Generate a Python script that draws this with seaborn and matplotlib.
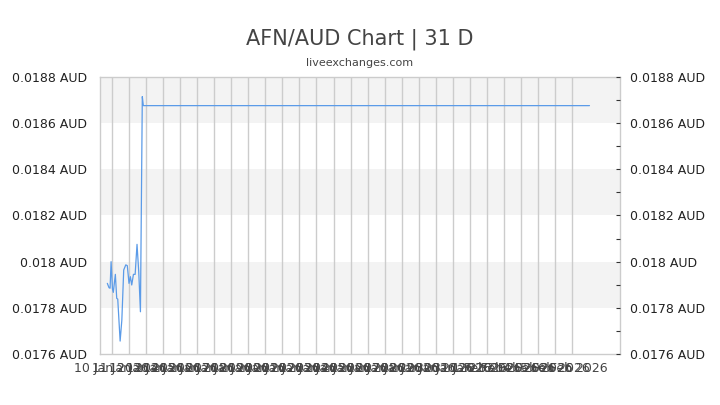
import matplotlib
matplotlib.use("Agg")
import matplotlib.pyplot as plt
import pandas as pd
import seaborn as sns
from matplotlib.ticker import MultipleLocator, FuncFormatter

# day offsets (fractional) and AFN/AUD rates
days = [-0.26, -0.16, -0.10, -0.04, 0.04, 0.09, 0.21, 0.29, 0.35, 0.49,
        0.59, 0.70, 0.82, 0.91, 1.01, 1.09, 1.17, 1.27, 1.37, 1.48,
        1.58, 1.68, 1.79, 1.85, 28.0]
rates = [0.017906, 0.017887, 0.017885, 0.018000, 0.017882, 0.017867, 0.017945,
         0.017841, 0.017838, 0.017656, 0.017747, 0.017964, 0.017986, 0.017983,
         0.017906, 0.017935, 0.017899, 0.017945, 0.017945, 0.018075, 0.017957,
         0.017783, 0.018715, 0.018676, 0.018676]

tick_labels = ["10 Jan 2026", "11 Jan 2026", "12 Jan 2026", "13 Jan 2026",
               "14 Jan 2026", "15 Jan 2026", "16 Jan 2026", "17 Jan 2026",
               "18 Jan 2026", "19 Jan 2026", "20 Jan 2026", "21 Jan 2026",
               "22 Jan 2026", "23 Jan 2026", "24 Jan 2026", "25 Jan 2026",
               "26 Jan 2026", "27 Jan 2026", "28 Jan 2026", "29 Jan 2026",
               "30 Jan 2026", "31 Jan 2026", "1 Feb 2026", "2 Feb 2026",
               "3 Feb 2026", "4 Feb 2026", "5 Feb 2026", "6 Feb 2026"]

band_edges = [(0.0178, 0.0180), (0.0182, 0.0184), (0.0186, 0.0188)]

df = pd.DataFrame({"day": days, "rate": rates})

sns.set_style("white")
plt.rcParams["font.family"] = ["DejaVu Sans"]

fig = plt.figure(figsize=(7.2, 4.05), dpi=100)
ax = fig.add_axes([100 / 720, 1 - 354 / 405, 520 / 720, 277 / 405])

for lo, hi in band_edges:
    ax.axhspan(lo, hi, color="#f3f3f3", zorder=0, lw=0)

for k in range(len(tick_labels)):
    ax.axvline(k, color="#cccccc", lw=1, zorder=1)

sns.lineplot(data=df, x="day", y="rate", ax=ax, color="#5b9be8", lw=0.9, zorder=3)

ax.set_xlim(-0.69, 29.79)
ax.set_ylim(0.0176, 0.0188)
ax.set_xticks(range(len(tick_labels)))
ax.set_xticklabels(tick_labels, fontsize=9, color="#444444")
ax.tick_params(axis="x", length=0, pad=6)

fmt = FuncFormatter(lambda v, p: f"{v:.4f}".rstrip("0") + " AUD")
ax.yaxis.set_major_locator(MultipleLocator(0.0002))
ax.yaxis.set_major_formatter(fmt)
ax.tick_params(axis="y", labelsize=9, length=0, pad=9, labelcolor="#222222")
ax.set_xlabel("")
ax.set_ylabel("")

for s in ax.spines.values():
    s.set_color("#cccccc")
    s.set_linewidth(1)

ax2 = ax.twinx()
ax2.set_ylim(ax.get_ylim())
ax2.yaxis.set_major_locator(MultipleLocator(0.0002))
ax2.yaxis.set_minor_locator(MultipleLocator(0.0001))
ax2.yaxis.set_major_formatter(fmt)
ax2.tick_params(axis="y", which="both", direction="in", length=3, width=0.8,
                color="#333333", labelsize=9, pad=7, labelcolor="#222222")
for s in ax2.spines.values():
    s.set_visible(False)

fig.text(0.5, 1 - 39 / 405, "AFN/AUD Chart | 31 D", ha="center", va="center",
         fontsize=15, color="#444444")
fig.text(0.5, 1 - 63 / 405, "liveexchanges.com", ha="center", va="center",
         fontsize=8, color="#444444")

fig.savefig("out.png", dpi=100)
